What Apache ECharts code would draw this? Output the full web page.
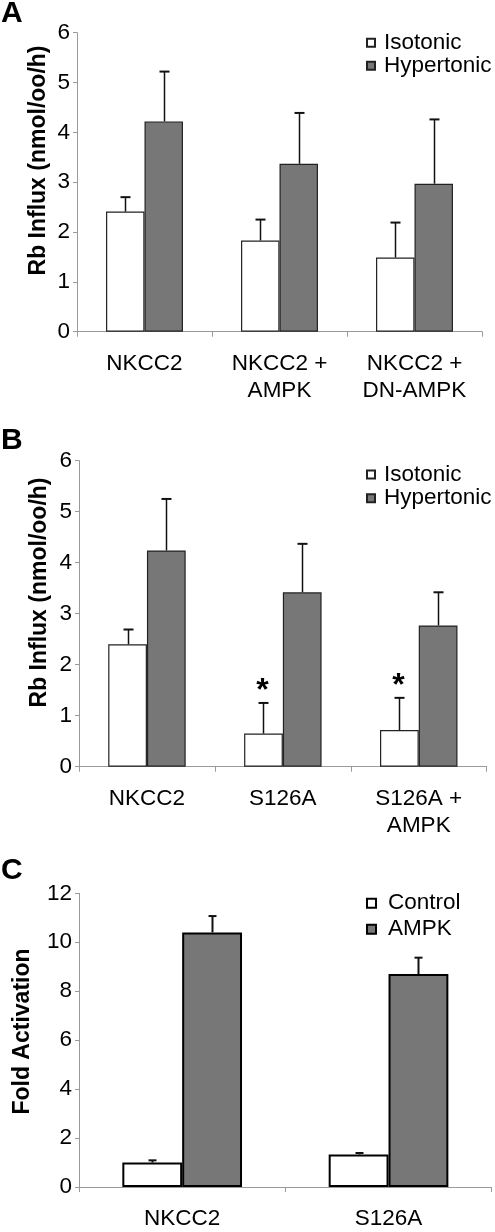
<!DOCTYPE html>
<html>
<head>
<meta charset="utf-8">
<script src="https://cdn.jsdelivr.net/npm/echarts@6/dist/echarts.min.js"></script>
<style>
html,body{margin:0;padding:0;background:#fff;}
#chart{width:495px;height:1232px;}
</style>
</head>
<body>
<div id="chart"></div>
<script>
// ---- Data ----
const catsA = ['NKCC2', 'NKCC2 +\nAMPK', 'NKCC2 +\nDN-AMPK'];
const isoA = [2.41, 1.83, 1.49];
const isoErrA = [0.29, 0.42, 0.70];
const hyperA = [4.22, 3.37, 2.97];
const hyperErrA = [1.00, 1.02, 1.29];

const catsB = ['NKCC2', 'S126A', 'S126A +\nAMPK'];
const isoB = [2.40, 0.65, 0.72];
const isoErrB = [0.29, 0.60, 0.63];
const hyperB = [4.24, 3.42, 2.77];
const hyperErrB = [1.01, 0.95, 0.65];
const sigB = ['', '*', '*'];

const catsC = ['NKCC2', 'S126A'];
const ctrlC = [1.00, 1.33];
const ctrlErrC = [0.09, 0.06];
const ampkC = [10.40, 8.70];
const ampkErrC = [0.67, 0.67];

const yTicksAB = [0, 1, 2, 3, 4, 5, 6];
const yTicksC = [0, 2, 4, 6, 8, 10, 12];

// ---- Styles ----
const FONT = 'Liberation Sans, Arial, sans-serif';
const AXIS_GRAY = '#9a9a9a';
const HYPER_FILL = '#777777';

const chart = echarts.init(document.getElementById('chart'), null, {renderer: 'canvas'});

function errData(vals, errs, side) {
  return vals.map((v, i) => [i, v, v + errs[i], side]);
}

function errSeries(name, gridIdx, vals, errs, side, gap, capW, lw, sig) {
  return {
    type: 'custom',
    name: name + ' err',
    xAxisIndex: gridIdx,
    yAxisIndex: gridIdx,
    z: 5,
    silent: true,
    data: errData(vals, errs, side),
    renderItem: function (params, api) {
      const ci = api.value(0);
      const base = api.value(1);
      const top = api.value(2);
      const sd = api.value(3);
      const p0 = api.coord([ci, base]);
      const p1 = api.coord([ci, top]);
      const band = api.size([1, 0])[0];
      const bw = band * (1 - gap) / 2;
      const x = Math.round(p0[0] + sd * bw / 2) + 0.5;
      const children = [
        {type: 'line', shape: {x1: x, y1: p0[1], x2: x, y2: p1[1]},
         style: {stroke: '#111', lineWidth: lw}},
        {type: 'line', shape: {x1: x - capW / 2, y1: p1[1], x2: x + capW / 2, y2: p1[1]},
         style: {stroke: '#111', lineWidth: 2}}
      ];
      if (sig && sig[params.dataIndex]) {
        children.push({type: 'text', x: x - 1, y: p1[1] + 4,
          style: {text: sig[params.dataIndex], fontSize: 32, fontWeight: 'bold', fontFamily: FONT,
                  fill: '#000', align: 'center', verticalAlign: 'bottom'}});
      }
      return {type: 'group', children: children};
    }
  };
}

function barSeries(name, gridIdx, vals, fill, border, bw, gap) {
  return {
    type: 'bar', name: name, xAxisIndex: gridIdx, yAxisIndex: gridIdx,
    data: vals, barGap: '0%', barCategoryGap: gap,
    itemStyle: {color: fill, borderColor: border, borderWidth: bw},
    emphasis: {disabled: true}, animation: false
  };
}

function xAxisDef(gridIdx, cats, margin) {
  return {
    type: 'category', gridIndex: gridIdx, data: cats,
    axisLine: {lineStyle: {color: AXIS_GRAY, width: 1}},
    axisTick: {show: true, alignWithLabel: false, length: 5, lineStyle: {color: AXIS_GRAY}},
    axisLabel: {color: '#000', fontSize: 22.5, fontFamily: FONT, lineHeight: 27, margin: margin, interval: 0},
    splitLine: {show: false}
  };
}

function yAxisDef(gridIdx, max, interval) {
  return {
    type: 'value', gridIndex: gridIdx, min: 0, max: max, interval: interval,
    axisLine: {show: true, lineStyle: {color: AXIS_GRAY, width: 1}},
    axisTick: {show: true, length: 4, lineStyle: {color: AXIS_GRAY}},
    axisLabel: {color: '#000', fontSize: 22.5, fontFamily: FONT, margin: 7},
    splitLine: {show: false}
  };
}

const gapAB = 0.43, gapC = 0.42;

const option = {
  animation: false,
  backgroundColor: '#fff',
  grid: [
    {left: 77, right: 13, top: 32.7, height: 299, containLabel: false},
    {left: 79, right: 8.3, top: 460.7, height: 306, containLabel: false},
    {left: 79, right: 3.3, top: 893.3, height: 296.7, containLabel: false}
  ],
  xAxis: [xAxisDef(0, catsA, 19), xAxisDef(1, catsB, 19), xAxisDef(2, catsC, 18)],
  yAxis: [yAxisDef(0, yTicksAB[yTicksAB.length - 1], 1),
          yAxisDef(1, yTicksAB[yTicksAB.length - 1], 1),
          yAxisDef(2, yTicksC[yTicksC.length - 1], 2)],
  legend: [
    {left: 361, top: 26.2, orient: 'vertical', itemGap: 0, itemWidth: 8, itemHeight: 8,
     data: ['Isotonic', 'Hypertonic'], selectedMode: false, icon: 'rect',
     textStyle: {fontSize: 22.5, fontFamily: FONT, color: '#000', lineHeight: 20.5, padding: [0, 0, 0, 4]}},
    {left: 361, top: 458, orient: 'vertical', itemGap: 0.7, itemWidth: 8, itemHeight: 8,
     data: ['Isotonic', 'Hypertonic'], selectedMode: false, icon: 'rect',
     textStyle: {fontSize: 22.5, fontFamily: FONT, color: '#000', lineHeight: 22, padding: [0, 0, 0, 4]}},
    {left: 361, top: 886.7, orient: 'vertical', itemGap: 3, itemWidth: 9, itemHeight: 9,
     data: ['Control', 'AMPK'], selectedMode: false, icon: 'rect',
     textStyle: {fontSize: 22.5, fontFamily: FONT, color: '#000', lineHeight: 22, padding: [0, 0, 0, 7]}}
  ],
  series: [
    barSeries('Isotonic', 0, isoA, '#fff', '#222', 1.2, '43%'),
    barSeries('Hypertonic', 0, hyperA, HYPER_FILL, '#222', 1.2, '43%'),
    errSeries('Isotonic', 0, isoA, isoErrA, -1, gapAB, 10, 1.5),
    errSeries('Hypertonic', 0, hyperA, hyperErrA, 1, gapAB, 10, 1.5),

    barSeries('Isotonic', 1, isoB, '#fff', '#222', 1.2, '43%'),
    barSeries('Hypertonic', 1, hyperB, HYPER_FILL, '#222', 1.2, '43%'),
    errSeries('Isotonic', 1, isoB, isoErrB, -1, gapAB, 10, 1.5, sigB),
    errSeries('Hypertonic', 1, hyperB, hyperErrB, 1, gapAB, 10, 1.5),

    barSeries('Control', 2, ctrlC, '#fff', '#000', 2, '42%'),
    barSeries('AMPK', 2, ampkC, HYPER_FILL, '#000', 2, '42%'),
    errSeries('Control', 2, ctrlC, ctrlErrC, -1, gapC, 8, 2),
    errSeries('AMPK', 2, ampkC, ampkErrC, 1, gapC, 8, 2)
  ],
  graphic: [
    {type: 'text', left: 1, top: -1, style: {text: 'A', fontSize: 30, fontWeight: 'bold', fontFamily: FONT, fill: '#000'}},
    {type: 'text', left: 1, top: 426, style: {text: 'B', fontSize: 30, fontWeight: 'bold', fontFamily: FONT, fill: '#000'}},
    {type: 'text', left: 1, top: 856, style: {text: 'C', fontSize: 30, fontWeight: 'bold', fontFamily: FONT, fill: '#000'}},
    {type: 'text', x: 39, y: 160.5, rotation: Math.PI / 2,
     style: {text: 'Rb Influx (nmol/oo/h)', fontSize: 23, fontWeight: 'bold', fontFamily: FONT, fill: '#000',
             align: 'center', verticalAlign: 'middle'}},
    {type: 'text', x: 40, y: 592.5, rotation: Math.PI / 2,
     style: {text: 'Rb Influx (nmol/oo/h)', fontSize: 23, fontWeight: 'bold', fontFamily: FONT, fill: '#000',
             align: 'center', verticalAlign: 'middle'}},
    {type: 'text', x: 23, y: 1031.5, rotation: Math.PI / 2,
     style: {text: 'Fold Activation', fontSize: 23, fontWeight: 'bold', fontFamily: FONT, fill: '#000',
             align: 'center', verticalAlign: 'middle'}}
  ]
};

chart.setOption(option);
</script>
</body>
</html>
